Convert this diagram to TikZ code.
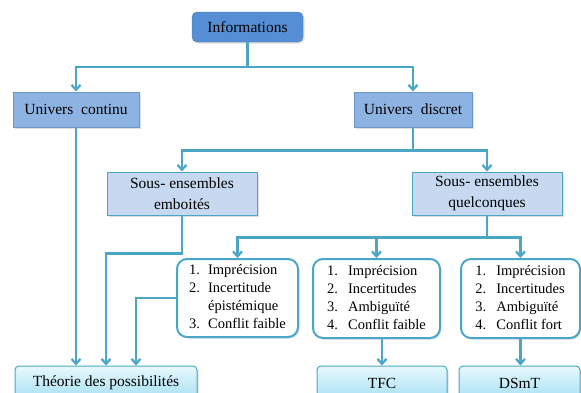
\documentclass[tikz,border=0pt]{standalone}
\usepackage{fontspec}
\setmainfont{Liberation Serif}
\usetikzlibrary{arrows.meta,shadows}
\definecolor{linkc}{RGB}{75,166,198}
\definecolor{infofill}{RGB}{85,142,213}
\definecolor{univfill}{RGB}{141,179,226}
\definecolor{univdraw}{RGB}{110,150,205}
\definecolor{sousfill}{RGB}{198,217,241}
\definecolor{leaftop}{RGB}{232,248,253}
\definecolor{leafbot}{RGB}{165,224,243}

\begin{document}
\begin{tikzpicture}[x=1pt,y=1pt,>={Straight Barb[length=5pt,width=9pt]},
      font=\fontsize{15.5}{21}\selectfont,
      shade/.style={drop shadow={shadow xshift=1.5pt,shadow yshift=-1.5pt,opacity=0.25}},
      topbox/.style={shade,fill=infofill,draw=infofill!85!black,rounded corners=5pt,
        inner sep=0pt,minimum height=30pt},
      univbox/.style={shade,fill=univfill,draw=univdraw,line width=1pt,
        inner sep=0pt,minimum height=35pt},
      sousbox/.style={shade,fill=sousfill,draw=linkc,line width=1pt,
        inner sep=0pt,minimum height=43pt,align=center},
      listbox/.style={shade,fill=white,draw=linkc,line width=2pt,rounded corners=10pt,
        inner sep=0pt,font=\fontsize{14.5}{18}\selectfont},
      leafbox/.style={shade,top color=leaftop,bottom color=leafbot,draw=linkc,line width=1pt,
        rounded corners=4pt,inner sep=0pt,minimum height=34pt},
      link/.style={draw=linkc,line width=2.2pt}]
      \clip (0,0) rectangle (581,-392);
      \node[topbox,minimum width=111pt] (info) at (247.5,-27) {Informations};
      \node[univbox,minimum width=126pt] (ucont) at (76,-109.5) {Univers\ \ continu};
      \node[univbox,minimum width=118pt] (udisc) at (413,-109.5) {Univers\ \ discret};
      \node[sousbox,minimum width=150pt] (semb) at (182,-193.5) {Sous- ensembles\\emboités};
      \node[sousbox,minimum width=150pt] (sq) at (487,-193.5) {Sous- ensembles\\quelconques};
      \node[listbox,minimum width=121pt,minimum height=78pt] (l1) at (237.5,-298) {%
        \begin{tabular}{@{}p{19pt}@{}l@{}}1. & Imprécision\\2. & Incertitude\\ & épistémique\\3. & Conflit faible\end{tabular}};
      \node[listbox,minimum width=127pt,minimum height=79pt] (l2) at (376.5,-298.5) {%
        \begin{tabular}{@{}p{21pt}@{}l@{}}1. & Imprécision\\2. & Incertitudes\\3. & Ambiguïté\\4. & Conflit faible\end{tabular}};
      \node[listbox,minimum width=119pt,minimum height=79pt] (l3) at (520.5,-298.5) {%
        \begin{tabular}{@{}p{21pt}@{}l@{}}1. & Imprécision\\2. & Incertitudes\\3. & Ambiguïté\\4. & Conflit fort\end{tabular}};
      \node[leafbox,minimum width=182pt] (theo) at (106,-383) {Théorie des possibilités};
      \node[leafbox,minimum width=130pt] (tfc) at (382,-383) {TFC};
      \node[leafbox,minimum width=121pt] (dsmt) at (519.5,-383) {DSmT};
      % branches
      \draw[link,->] (info.south) -- ++(0,-25) -| (ucont.north);
      \draw[link,->] (info.south) -- ++(0,-25) -| (udisc.north);
      \draw[link,->] (udisc.south) -- ++(0,-23) -| (semb.north);
      \draw[link,->] (udisc.south) -- ++(0,-23) -| (sq.north);
      \draw[link,->] (sq.south) -- ++(0,-22) -| (l1.north);
      \draw[link,->] (sq.south) -- ++(0,-22) -| (l2.north);
      \draw[link,->] (sq.south) -- ++(0,-22) -| (l3.north);
      % vers les theories
      \draw[link,->] (ucont.south) -- (ucont.south |- theo.north);
      \draw[link,->] (semb.south) -- ++(0,-38) -| (theo.north);
      \draw[link,->] (l1.west) -- ++(-41,0) -| ([xshift=30pt]theo.north);
      \draw[link,->] (tfc.north |- l2.south) -- (tfc.north);
      \draw[link,->] (l3.south) -- (l3.south |- dsmt.north);
    \end{tikzpicture}
\end{document}
